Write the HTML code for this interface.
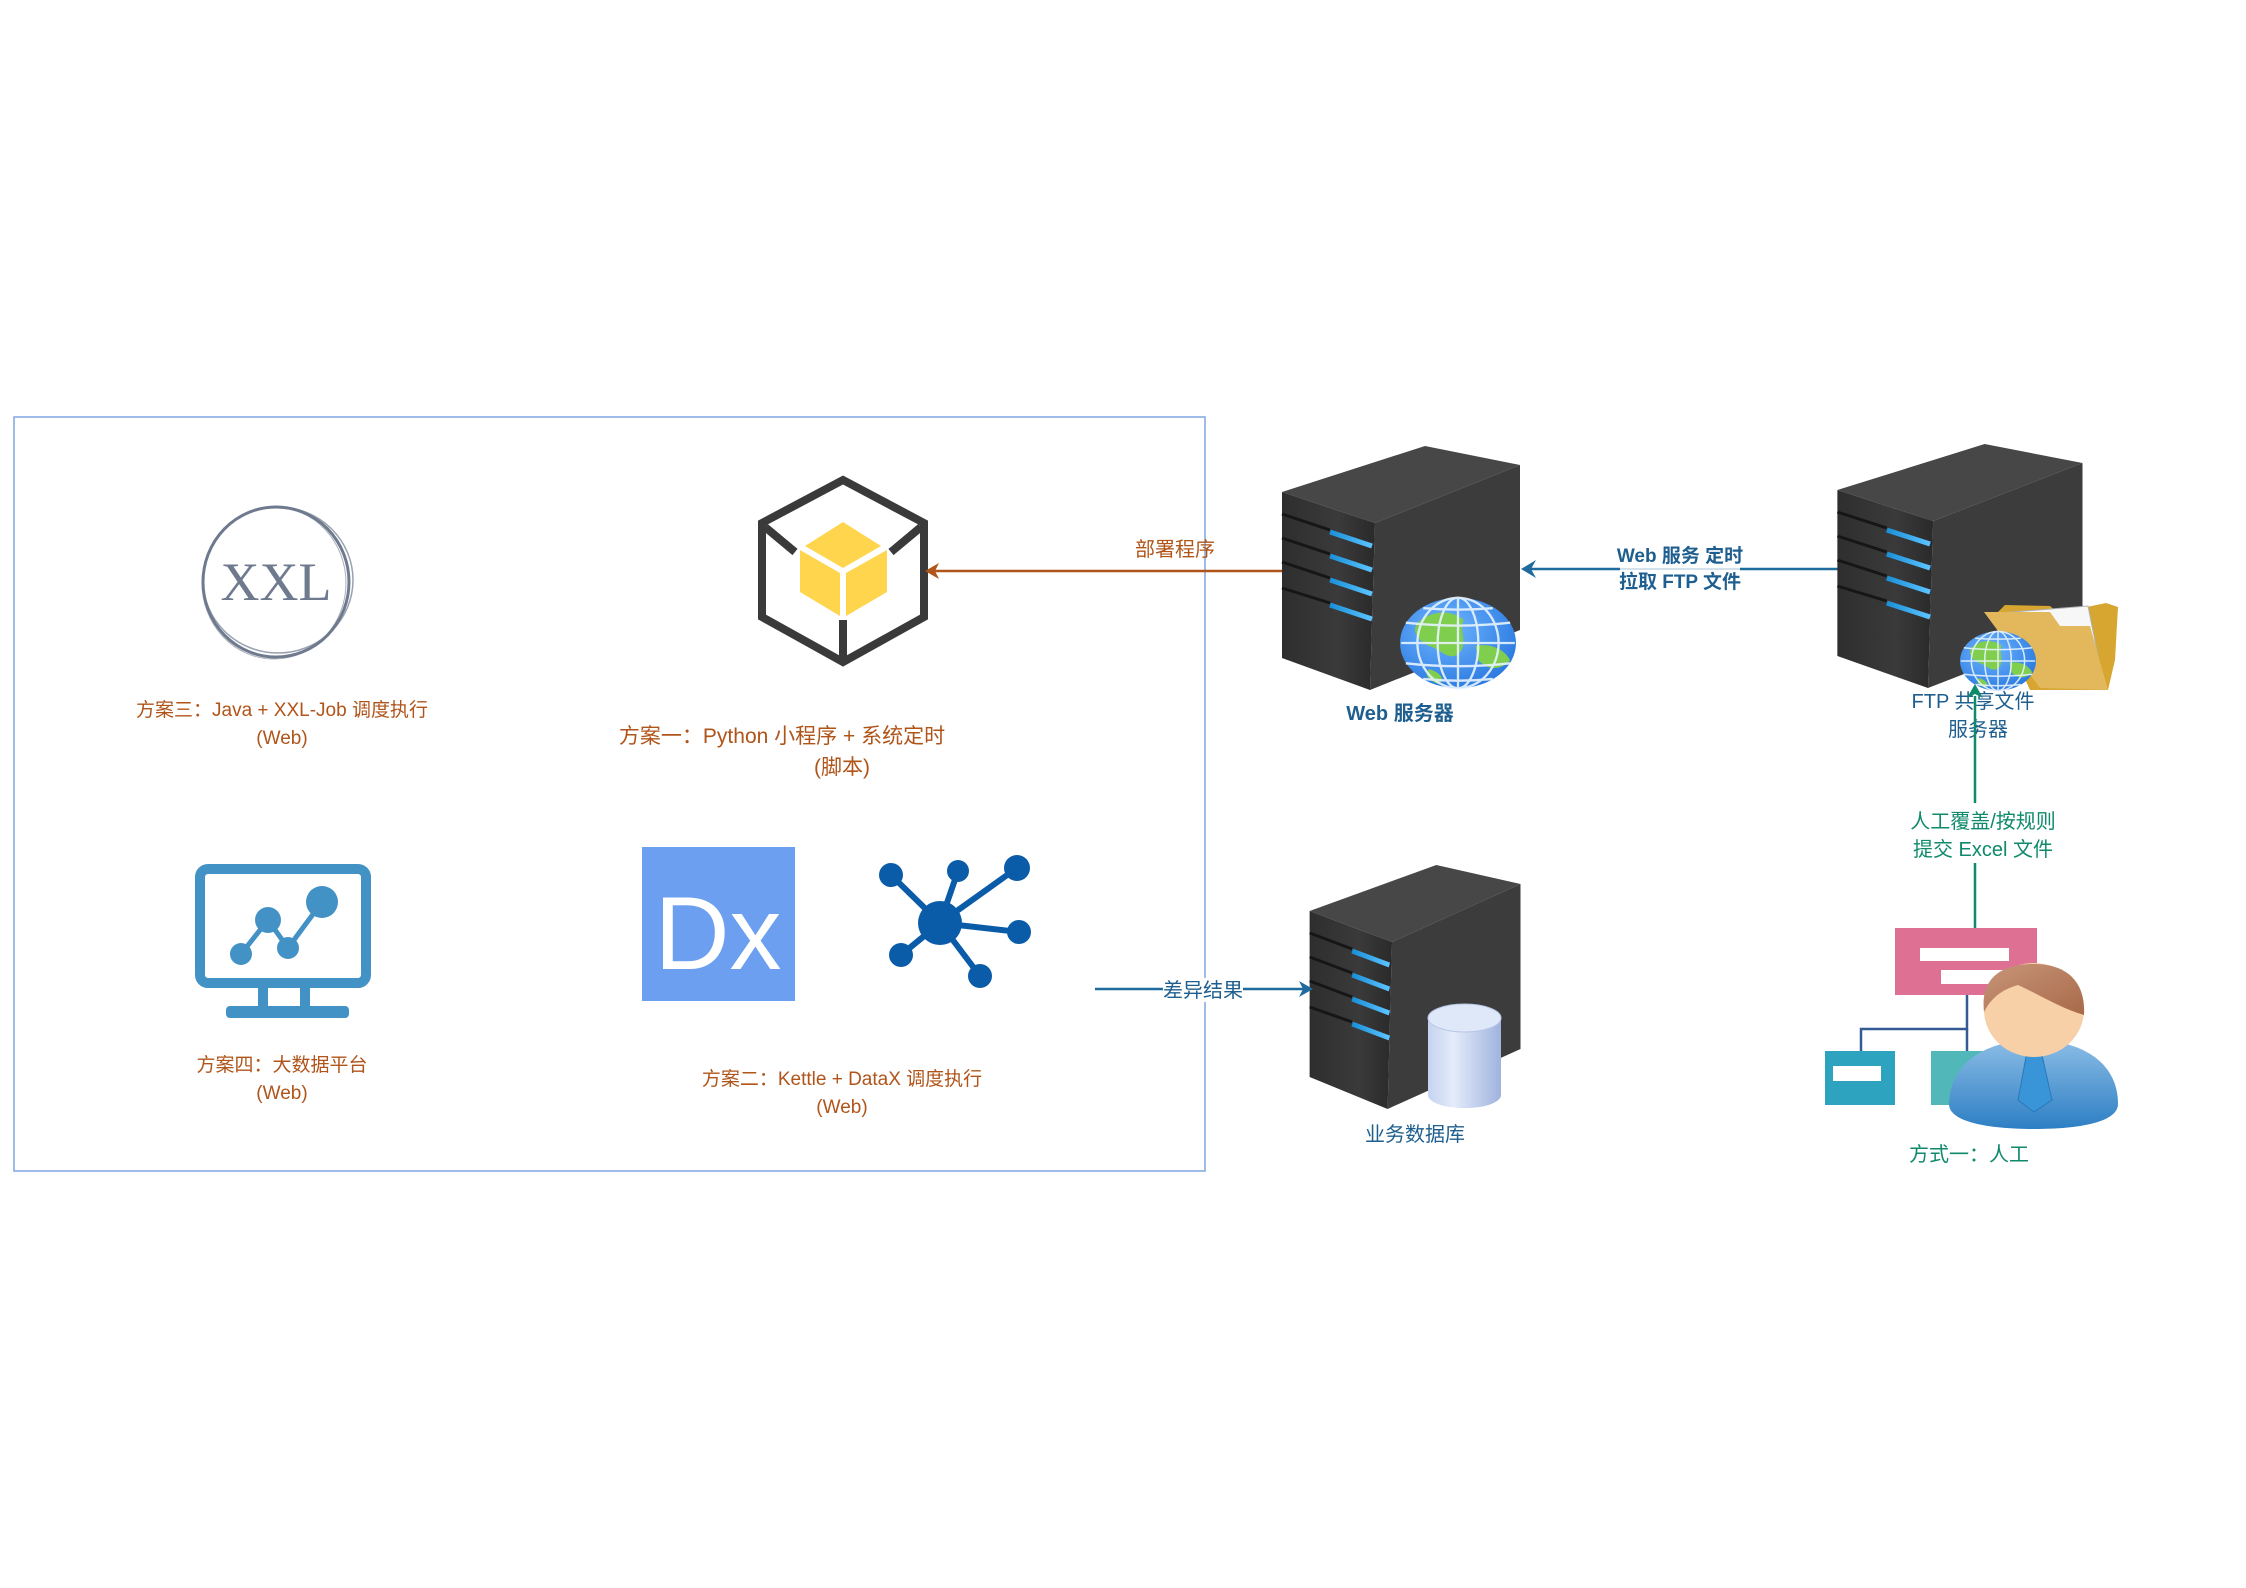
<!DOCTYPE html>
<html><head><meta charset="utf-8">
<style>
html,body{margin:0;padding:0;background:#fff;}
svg{display:block;}
text{font-family:"Liberation Sans","Noto Sans CJK SC",sans-serif;}
</style></head>
<body>
<svg width="2246" height="1588" viewBox="0 0 2246 1588" xmlns="http://www.w3.org/2000/svg">
<defs>
  <linearGradient id="front" x1="0" y1="0" x2="1" y2="0">
    <stop offset="0" stop-color="#2e2e2e"/><stop offset="0.6" stop-color="#3a3a3a"/><stop offset="1" stop-color="#2a2a2a"/>
  </linearGradient>
  <linearGradient id="slot" x1="0" y1="0" x2="1" y2="0">
    <stop offset="0" stop-color="#1a8fd8"/><stop offset="1" stop-color="#5cc4ff"/>
  </linearGradient>
  <radialGradient id="globe" cx="0.4" cy="0.35" r="0.7">
    <stop offset="0" stop-color="#6fb6ff"/><stop offset="1" stop-color="#2a78e0"/>
  </radialGradient>
  <linearGradient id="cyl" x1="0" y1="0" x2="1" y2="0">
    <stop offset="0" stop-color="#c5d3ef"/><stop offset="0.35" stop-color="#e4ecfb"/><stop offset="1" stop-color="#9fb3de"/>
  </linearGradient>
  <linearGradient id="body" x1="0" y1="0" x2="0" y2="1">
    <stop offset="0" stop-color="#8cbde6"/><stop offset="1" stop-color="#2d7fc4"/>
  </linearGradient>
  <linearGradient id="hair" x1="0" y1="0" x2="1" y2="1">
    <stop offset="0" stop-color="#c8957a"/><stop offset="1" stop-color="#a86a48"/>
  </linearGradient>
  <g id="server">
    <polygon points="12,52 155,6 250,25 105,83" fill="#474747"/>
    <polygon points="105,83 250,25 250,190 100,250" fill="#3c3c3c"/>
    <polygon points="12,52 105,83 100,250 12,218" fill="url(#front)"/>
    <g stroke="#161616" stroke-width="3">
      <line x1="12" y1="74" x2="60" y2="90"/>
      <line x1="12" y1="98" x2="60" y2="114"/>
      <line x1="12" y1="122" x2="60" y2="138"/>
      <line x1="12" y1="148" x2="60" y2="163"/>
    </g>
    <g stroke="url(#slot)" stroke-width="5">
      <line x1="60" y1="92" x2="102" y2="106"/>
      <line x1="60" y1="116" x2="102" y2="130"/>
      <line x1="60" y1="140" x2="102" y2="154"/>
      <line x1="60" y1="165" x2="102" y2="179"/>
    </g>
  </g>
  <g id="globeg">
    <ellipse cx="0" cy="0" rx="1" ry="0.78" fill="url(#globe)"/>
    <path d="M-0.7,-0.35 C-0.4,-0.6 -0.1,-0.55 0.1,-0.4 C0.0,-0.2 0.2,0 0.0,0.2 C-0.2,0.3 -0.3,0.1 -0.5,0.05 C-0.7,-0.05 -0.8,-0.2 -0.7,-0.35 Z M0.3,0.05 C0.55,0 0.8,0.1 0.9,0.3 C0.7,0.5 0.5,0.45 0.35,0.3 Z M-0.5,0.45 C-0.3,0.5 -0.2,0.65 -0.35,0.7 C-0.5,0.65 -0.6,0.55 -0.5,0.45 Z" fill="#7fce4e"/>
    <g fill="none" stroke="#e8f4ff" stroke-width="0.04" opacity="0.9">
      <ellipse cx="0" cy="0" rx="0.35" ry="0.78"/>
      <ellipse cx="0" cy="0" rx="0.7" ry="0.78"/>
      <line x1="0" y1="-0.78" x2="0" y2="0.78"/>
      <line x1="-0.98" y1="0" x2="0.98" y2="0"/>
      <path d="M-0.9,-0.35 Q0,-0.25 0.9,-0.35 M-0.9,0.35 Q0,0.45 0.9,0.35 M-0.6,-0.6 Q0,-0.55 0.6,-0.6 M-0.6,0.62 Q0,0.68 0.6,0.62"/>
    </g>
  </g>
</defs>

<rect x="14" y="417" width="1191" height="754" fill="none" stroke="#7ea6e0" stroke-width="1.5"/>

<g fill="none" stroke="#6f7a8e">
  <ellipse cx="276" cy="582" rx="73" ry="75" stroke-width="3"/>
  <ellipse cx="278" cy="580" rx="75" ry="73" stroke-width="1.5" opacity="0.7"/>
  <ellipse cx="274" cy="583" rx="72" ry="76" stroke-width="1" opacity="0.6"/>
</g>
<text x="276" y="600" font-size="54" fill="#6f7a8e" text-anchor="middle" style="font-family:'Liberation Serif',serif">XXL</text>
<text x="282" y="716" font-size="19" fill="#b0541a" text-anchor="middle">方案三：Java + XXL-Job 调度执行</text>
<text x="282" y="744" font-size="19" fill="#b0541a" text-anchor="middle">(Web)</text>

<polygon points="843,480 924,523 924,617 843,662 762,617 762,523" fill="none" stroke="#3a3a3a" stroke-width="8"/>
<line x1="765" y1="527" x2="795" y2="552" stroke="#3a3a3a" stroke-width="8"/>
<line x1="921" y1="527" x2="891" y2="552" stroke="#3a3a3a" stroke-width="8"/>
<line x1="843" y1="620" x2="843" y2="660" stroke="#3a3a3a" stroke-width="8"/>
<polygon points="843,522 881,546 843,568 805,546" fill="#ffd54d"/>
<polygon points="800,550 840,573 840,616 800,592" fill="#ffd54d"/>
<polygon points="887,550 846,573 846,616 887,592" fill="#ffd54d"/>
<text x="782" y="743" font-size="21" fill="#b0541a" text-anchor="middle">方案一：Python 小程序 + 系统定时</text>
<text x="842" y="774" font-size="21" fill="#b0541a" text-anchor="middle">(脚本)</text>

<rect x="200" y="869" width="166" height="114" rx="8" fill="none" stroke="#4392c6" stroke-width="10"/>
<rect x="258" y="986" width="10" height="24" fill="#4392c6"/>
<rect x="300" y="986" width="10" height="24" fill="#4392c6"/>
<rect x="226" y="1006" width="123" height="12" rx="4" fill="#4392c6"/>
<polyline points="241,954 268,920 288,948 322,902" fill="none" stroke="#4392c6" stroke-width="5"/>
<circle cx="241" cy="954" r="11" fill="#4392c6"/>
<circle cx="268" cy="920" r="13" fill="#4392c6"/>
<circle cx="288" cy="948" r="11" fill="#4392c6"/>
<circle cx="322" cy="902" r="16" fill="#4392c6"/>
<text x="282" y="1071" font-size="19" fill="#b0541a" text-anchor="middle">方案四：大数据平台</text>
<text x="282" y="1099" font-size="19" fill="#b0541a" text-anchor="middle">(Web)</text>

<rect x="642" y="847" width="153" height="154" fill="#6d9ff0"/>
<text x="718" y="969" font-size="104" fill="#fff" text-anchor="middle">Dx</text>

<g stroke="#0b5ca8" stroke-width="6" fill="#0b5ca8">
  <line x1="940" y1="923" x2="891" y2="875"/>
  <line x1="940" y1="923" x2="958" y2="871"/>
  <line x1="940" y1="923" x2="1017" y2="868"/>
  <line x1="940" y1="923" x2="1019" y2="932"/>
  <line x1="940" y1="923" x2="901" y2="955"/>
  <line x1="940" y1="923" x2="980" y2="976"/>
  <circle cx="940" cy="923" r="22" stroke="none"/>
  <circle cx="891" cy="875" r="12" stroke="none"/>
  <circle cx="958" cy="871" r="11" stroke="none"/>
  <circle cx="1017" cy="868" r="13" stroke="none"/>
  <circle cx="1019" cy="932" r="12" stroke="none"/>
  <circle cx="901" cy="955" r="12" stroke="none"/>
  <circle cx="980" cy="976" r="12" stroke="none"/>
</g>
<text x="842" y="1085" font-size="19" fill="#b0541a" text-anchor="middle">方案二：Kettle + DataX 调度执行</text>
<text x="842" y="1113" font-size="19" fill="#b0541a" text-anchor="middle">(Web)</text>

<line x1="1282" y1="571" x2="932" y2="571" stroke="#b0541a" stroke-width="2.5"/>
<polygon points="925,571 939,563 935,571 939,579" fill="#b0541a"/>
<text x="1175" y="556" font-size="20" fill="#b0541a" text-anchor="middle">部署程序</text>

<use href="#server" transform="translate(1270,440)"/>
<use href="#globeg" transform="translate(1458,643) scale(58)"/>
<text x="1400" y="720" font-size="20" font-weight="bold" fill="#1f5f8f" text-anchor="middle">Web 服务器</text>

<line x1="1838" y1="569" x2="1530" y2="569" stroke="#1f6b9e" stroke-width="2.5"/>
<polygon points="1521,569 1536,560 1531,569 1536,578" fill="#1f6b9e"/>
<rect x="1620" y="564" width="120" height="10" fill="#fff"/>
<line x1="1620" y1="569" x2="1740" y2="569" stroke="#1f6b9e" stroke-width="1" opacity="0.4"/>
<text x="1680" y="562" font-size="19" font-weight="bold" fill="#1f5f8f" text-anchor="middle">Web 服务 定时</text>
<text x="1680" y="588" font-size="19" font-weight="bold" fill="#1f5f8f" text-anchor="middle">拉取 FTP 文件</text>

<use href="#server" transform="translate(1825,438) scale(1.03,1)"/>
<!-- folder -->
<polygon points="1995,615 2005,605 2050,606 2058,613 2106,603 2118,607 2115,660 2108,690 2030,690" fill="#d6a630"/>
<polygon points="2000,613 2088,606 2104,686 2010,670" fill="#f7f7f7" stroke="#b0b0b0" stroke-width="1"/>
<polygon points="1984,612 2050,612 2060,626 2090,626 2108,690 2040,688" fill="#e3b85c"/>
<use href="#globeg" transform="translate(1998,661) scale(38)"/>
<text x="1973" y="708" font-size="20" fill="#1f5f8f" text-anchor="middle">FTP 共享文件</text>
<text x="1978" y="736" font-size="20" fill="#1f5f8f" text-anchor="middle">服务器</text>

<line x1="1975" y1="929" x2="1975" y2="696" stroke="#0f8a6b" stroke-width="2.5"/>
<polygon points="1975,684 1983,698 1975,694 1967,698" fill="#0f8a6b"/>
<rect x="1900" y="803" width="160" height="60" fill="#fff"/>
<text x="1983" y="828" font-size="20" fill="#0f8a6b" text-anchor="middle">人工覆盖/按规则</text>
<text x="1983" y="856" font-size="20" fill="#0f8a6b" text-anchor="middle">提交 Excel 文件</text>

<rect x="1895" y="928" width="142" height="67" fill="#de7094"/>
<rect x="1920" y="948" width="89" height="13" fill="#fff"/>
<rect x="1941" y="970" width="89" height="14" fill="#fff"/>
<polyline points="1967,995 1967,1029 1861,1029 1861,1051" fill="none" stroke="#335a92" stroke-width="2.5"/>
<line x1="1967" y1="1029" x2="1967" y2="1051" stroke="#335a92" stroke-width="2.5"/>
<rect x="1825" y="1051" width="70" height="54" fill="#2ea3bf"/>
<rect x="1833" y="1066" width="48" height="15" fill="#fff"/>
<rect x="1931" y="1051" width="60" height="54" fill="#52b7b8"/>
<path d="M1949,1104 C1950,1060 1990,1040 2034,1040 C2078,1040 2118,1060 2118,1104 C2118,1122 2080,1129 2034,1129 C1988,1129 1949,1122 1949,1104 Z" fill="url(#body)"/>
<polygon points="2028,1046 2040,1046 2052,1100 2034,1112 2018,1100" fill="#3a95d8" stroke="#2a78b8" stroke-width="1"/>
<ellipse cx="2034" cy="1010" rx="50" ry="47" fill="#f7d0a8"/>
<path d="M1984,1012 C1980,975 2005,964 2034,964 C2070,964 2086,985 2084,1015 C2060,1008 2040,995 2018,985 C2000,990 1990,1000 1984,1012 Z" fill="url(#hair)"/>
<text x="1969" y="1161" font-size="20" fill="#0f8a6b" text-anchor="middle">方式一：人工</text>

<use href="#server" transform="translate(1299,859) scale(0.886,1)"/>
<path d="M1428,1018 L1428,1095 A36,13 0 0 0 1501,1095 L1501,1018 Z" fill="url(#cyl)"/>
<ellipse cx="1464.5" cy="1018" rx="36.5" ry="14" fill="#dfe8f8" stroke="#b7c6e6" stroke-width="1"/>
<text x="1415" y="1141" font-size="20" fill="#1f5f8f" text-anchor="middle">业务数据库</text>

<line x1="1095" y1="989" x2="1303" y2="989" stroke="#1f6b9e" stroke-width="2.5"/>
<polygon points="1313,989 1299,981 1303,989 1299,997" fill="#1f6b9e"/>
<rect x="1163" y="978" width="80" height="24" fill="#fff"/>
<text x="1203" y="997" font-size="20" fill="#1f5f8f" text-anchor="middle">差异结果</text>
</svg>
</body></html>
